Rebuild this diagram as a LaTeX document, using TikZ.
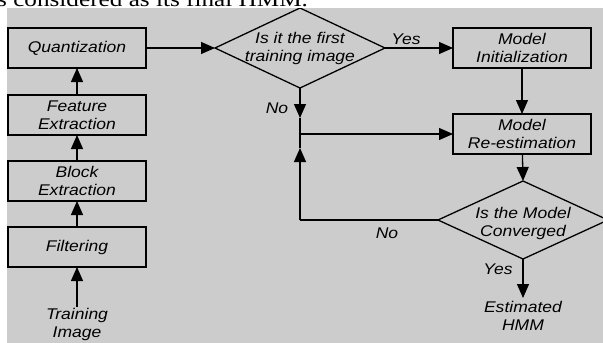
\documentclass[tikz,border=0pt]{standalone}
\usepackage{fontspec}
\newfontfamily\diagfont{Liberation Sans}[FakeStretch=1.13]
\newfontfamily\serfont{Liberation Serif}[FakeStretch=1.2]
\usetikzlibrary{shapes.geometric,arrows.meta}
\definecolor{bgray}{RGB}{204,204,204}
\begin{document}
\begin{tikzpicture}[x=1pt,y=-1pt,
  txt/.style={font=\diagfont\itshape\fontsize{15.5}{18}\selectfont, align=center, inner sep=0pt},
  box/.style={draw, line width=1.3pt, minimum width=138pt, minimum height=40pt, inner sep=0pt, outer sep=0pt, txt},
  dia/.style={draw, line width=1.3pt, diamond, minimum width=170pt, minimum height=80pt, inner sep=0pt, outer sep=0pt},
  arr/.style={line width=1.3pt, -{Triangle[length=14pt,width=12pt]}},
  ln/.style={line width=1.3pt}]
\useasboundingbox (0,0) rectangle (603,343);
\fill[bgray] (7,8) rectangle (603,343);
\begin{scope}
\clip (0,0) rectangle (603,8);
\node[anchor=base west, font=\serfont\fontsize{21}{21}\selectfont, inner sep=0pt] (cap) at (-3,6) {s considered as its final HMM.};
\end{scope}
\begin{scope}
\clip (7,8) rectangle (603,343);
% left column
\node[box] (q) at (77,48) {Quantization};
\node[box] (fe) at (77,115) {Feature\\Extraction};
\node[box] (be) at (77,181) {Block\\Extraction};
\node[box] (fi) at (77,247) {Filtering};
\node[txt, anchor=north, inner sep=1pt] (ti) at (77,307) {Training\\Image};
% decision 1
\node[dia] (d1) at (300,48) {};
\node[txt] (d1t) at (300,48) {Is it the first\\training image};
\node[box] (mi) at (522,48) {Model\\Initialization};
\node[box] (re) at (522,134) {Model\\Re-estimation};
% decision 2
\node[dia, minimum height=78pt] (d2) at (523,220) {};
\node[txt] (d2t) at (523,223) {Is the Model\\Converged};
\node[txt, anchor=north, inner sep=3pt] (est) at (523,298) {Estimated\\HMM};
% coordinates
\coordinate (j) at (300,134);
\coordinate (nt) at (300,118);
\coordinate (ut) at (300,148);
\coordinate (c) at (300,220);
% connectors
\draw[arr] (ti) -- (fi);
\draw[arr] (fi) -- (be);
\draw[arr] (be) -- (fe);
\draw[arr] (fe) -- (q);
\draw[arr] (q) -- (d1.west);
\draw[arr] (d1.east) -- (mi.west);
\draw[arr] (mi) -- (re);
\draw[arr] (d1.south) -- (nt);
\draw[ln] (nt) -- (j);
\draw[arr] (j) -- (re.west);
\draw[arr] (re) -- (d2.north);
\draw[ln] (d2.west) -- (c);
\draw[arr] (c) -- (ut);
\draw[ln] (ut) -- (j);
\draw[arr] (d2.south) -- (est.north);
% labels
\node[txt] (ly1) at (406,39) {Yes};
\node[txt] (ln1) at (277,108) {No};
\node[txt] (ln2) at (387,233) {No};
\node[txt] (ly2) at (498,269) {Yes};
\end{scope}
\end{tikzpicture}
\end{document}
